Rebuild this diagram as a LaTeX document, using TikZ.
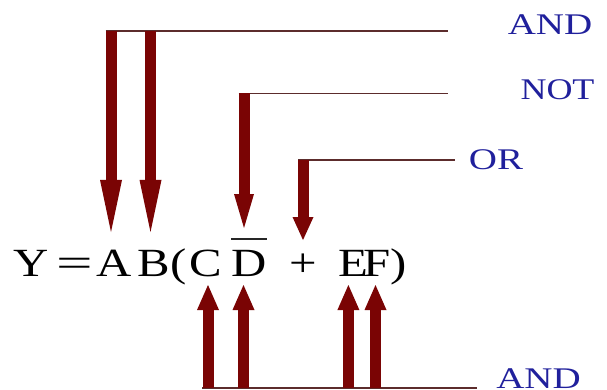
\documentclass[tikz,border=0pt]{standalone}
\usepackage{fontspec}
\setmainfont{Liberation Serif}
\usepackage{graphicx}
\usetikzlibrary{arrows.meta}
\definecolor{arrowred}{RGB}{122,4,4}
\definecolor{wire}{RGB}{92,44,44}
\definecolor{lblue}{RGB}{32,32,156}
\newcommand\sxg[2][1.22]{\scalebox{#1}[1]{#2}}
\begin{document}
\begin{tikzpicture}[x=1pt,y=-1pt,
  glyph/.style={inner sep=0pt,anchor=base,font=\fontsize{40}{44}\selectfont},
  gatelabel/.style={inner sep=0pt,anchor=base,text=lblue,font=\fontsize{30}{34}\selectfont},
  wireline/.style={draw=wire,line width=1.5pt},
  overbar/.style={draw=black!85,line width=1.3pt},
  redarrow/.style={draw=arrowred,line width=11pt},
  headlong/.style={redarrow,-{Triangle[width=22pt,length=52pt,line width=0pt]}},
  headmid/.style={redarrow,-{Triangle[width=20pt,length=34pt,line width=0pt]}},
  headshort/.style={redarrow,-{Triangle[width=21pt,length=23pt,line width=0pt]}},
  headup/.style={redarrow,-{Triangle[width=22pt,length=25pt,line width=0pt]}}
]
\useasboundingbox (0,0) rectangle (607,390);

% formula glyphs
\node[glyph] (gY) at (31,276) {\sxg{Y}};
\node[glyph] (gEq) at (74.5,276) {\sxg[1.62]{=}};
\node[glyph] (gA) at (114,276) {\sxg{A}};
\node[glyph] (gB) at (154,276) {\sxg{B}};
\node[glyph] (gL) at (179,276) {\sxg{(}};
\node[glyph] (gC) at (206,276) {\sxg{C}};
\node[glyph] (gD) at (249,276) {\sxg{D}};
\node[glyph] (gP) at (303,276) {\sxg{+}};
\node[glyph] (gE) at (353,276) {\sxg{E}};
\node[glyph] (gF) at (377.5,276) {\sxg{F}};
\node[glyph] (gR) at (398.5,276) {\sxg{)}};
\draw[overbar] ([yshift=37pt]gD.base west) -- ([yshift=37pt]gD.base east);

% gate labels
\node[gatelabel] (lAnd1) at (550,35) {\sxg[1.3]{AND}};
\node[gatelabel] (lNot) at (557.5,100) {\sxg[1.2]{NOT}};
\node[gatelabel] (lOr) at (496,170) {\sxg[1.3]{OR}};
\node[gatelabel] (lAnd2) at (538.5,388) {\sxg[1.3]{AND}};

% wire corners
\coordinate (w1L) at (105.5,31);
\coordinate (w1R) at (448,31);
\coordinate (a1) at (111,31);
\coordinate (b1) at (150.5,31);
\coordinate (w2L) at (238.5,93.5);
\coordinate (w2R) at (448,93.5);
\coordinate (n1) at (244,93.5);
\coordinate (w3L) at (298,160);
\coordinate (w3R) at (455,160);
\coordinate (o1) at (303,160);
\coordinate (w4L) at (202,388);
\coordinate (w4R) at (477,388);
\coordinate (c1) at (208,388);
\coordinate (d1) at (243.5,388);
\coordinate (e1) at (348.4,388);
\coordinate (f1) at (375.5,388);

% horizontal wires
\draw[wireline] (w1L) -- (w1R);
\draw[wireline] (w2L) -- (w2R);
\draw[wireline] (w3L) -- (w3R);
\draw[wireline,line width=2pt] (w4L) -- (w4R);

% down arrows
\draw[headlong,shorten >=44pt] (a1) -- (a1 |- gA.base);
\draw[headlong,shorten >=44pt] (b1) -- (b1 |- gB.base);
\draw[headmid,shorten >=48pt] (n1) -- (n1 |- gD.base);
\draw[headshort,shorten >=36pt] (o1) -- (o1 |- gP.base);

% up arrows
\draw[headup,shorten >=9pt] (c1) -- (c1 |- gC.base);
\draw[headup,shorten >=9pt] (d1) -- (d1 |- gD.base);
\draw[headup,shorten >=9pt] (e1) -- (e1 |- gE.base);
\draw[headup,shorten >=9pt] (f1) -- (f1 |- gF.base);
\end{tikzpicture}
\end{document}
